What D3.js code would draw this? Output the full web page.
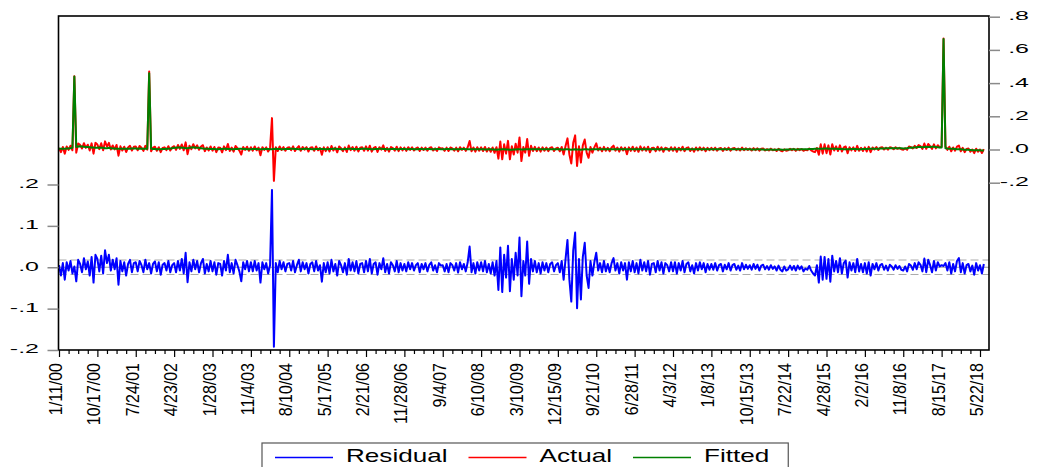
<!DOCTYPE html>
<html>
<head>
<meta charset="utf-8">
<script src="https://cdn.jsdelivr.net/npm/d3@7/dist/d3.min.js"></script>
<style>
    body { margin: 0; background: #fff; }
    text { font-family: "Liberation Sans", Arial, sans-serif; }
</style>
</head>
<body>
<svg id="chart" width="1039" height="467"></svg>
<script>

// x labels, one every 20 samples (samples are two weeks apart)
const dateLabels = ['1/11/00', '10/17/00', '7/24/01', '4/23/02', '1/28/03', '11/4/03', '8/10/04',
    '5/17/05', '2/21/06', '11/28/06', '9/4/07', '6/10/08', '3/10/09', '12/15/09', '9/21/10',
    '6/28/11', '4/3/12', '1/8/13', '10/15/13', '7/22/14', '4/28/15', '2/2/16', '11/8/16',
    '8/15/17', '5/22/18'];

const residual = [
    .005, -.02, .01, -.03, .012, -.008, .015, -.015, .002, -.034, .018, .008, -.012, .022, -.005, .014, -.02, .025, -.037, .03,
    .02, -.01, .028, -.015, .041, .01, .03, -.008, .018, -.005, .022, -.042, .015, -.01, .012, -.02, .008, .018, -.012, .01,
    .012, -.01, .015, .005, -.012, .018, -.005, .01, -.015, .008, .014, -.01, .012, -.018, .006, .01, -.008, .015, -.012, .005,
    .01, -.012, .015, -.008, .02, -.015, .035, -.036, .012, -.01, .018, -.005, .015, -.012, .01, .02, -.015, .008, -.01, .015,
    -.01, .012, -.018, .01, .008, -.02, .015, -.008, .03, -.012, .01, -.015, .018, .005, -.01, -.034, .012, -.005, .015, -.01,
    .012, -.01, .015, -.008, .01, -.037, .012, -.005, .01, -.015, .005, .187, -.192, .01, -.012, .015, -.005, .012, -.01, .008,
    .01, -.008, .015, -.012, .005, .018, -.01, .012, -.005, .01, -.015, .008, .012, -.01, .015, -.008, .005, -.035, .01, -.012,
    .012, -.015, .018, -.01, .008, -.02, .015, .005, -.012, .01, -.018, .02, -.008, .012, -.01, .015, -.015, .008, .01, -.012,
    .015, -.01, .02, -.015, .008, .012, -.018, .01, -.005, .022, -.012, .008, -.015, .012, .005, -.01, .015, -.012, .01, -.008,
    .008, -.01, .012, -.005, .01, -.008, .005, .01, -.012, .008, -.005, .01, -.01, .006, .012, -.008, .005, -.012, .01, .004,
    .005, -.01, .008, -.012, .01, .005, -.008, .01, -.013, .012, -.005, .008, -.01, .012, .05, -.012, .01, -.015, .012, -.008,
    .012, -.01, .015, -.012, .008, -.015, .012, -.02, .015, -.055, .048, -.06, .03, -.025, .052, -.058, .02, -.03, .035, -.02,
    .072, -.07, .015, -.02, .062, -.04, .02, -.01, .015, -.012, .01, -.015, .012, -.008, .01, -.012, .008, .012, -.01, .005,
    .01, -.012, .015, -.03, .02, .066, -.03, -.083, .04, .084, -.099, .02, -.078, .025, .059, -.02, -.05, .015, -.02, .012,
    .035, -.008, .01, -.012, .015, -.01, .008, -.012, .01, .022, -.008, .01, -.015, .012, -.008, .01, -.03, .012, -.01, .015,
    -.012, .01, -.015, .018, -.008, .012, -.01, .015, -.018, .008, .01, -.012, .015, -.008, .012, -.015, .01, .005, -.01, .012,
    -.01, .012, -.015, .01, -.008, .015, -.012, .008, .012, -.01, .005, -.015, .01, -.008, .012, -.005, .01, -.012, .008, -.006,
    .008, -.006, .01, -.008, .005, .008, -.01, .006, -.005, .01, -.008, .005, .008, -.006, .004, -.008, .01, -.005, .006, -.004,
    .005, -.006, .008, -.004, .006, -.008, .004, .006, -.005, .003, -.006, .005, -.004, .002, -.008, .004, -.006, -.01, .002, -.008,
    -.005, .004, -.006, .003, -.008, .004, -.005, .002, -.01, -.003, -.006, .003, -.008, -.015, -.02, .005, -.037, .026, -.03, .025,
    -.028, .02, -.035, .028, -.01, .015, -.012, .022, -.015, .01, .016, -.025, .012, -.008, .01, -.012, .02, -.01, .008, -.012,
    .01, -.015, .012, -.02, .008, -.005, .01, -.008, .005, .008, -.006, .004, -.008, .006, .002, -.006, .005, -.004, .003, -.006,
    -.008, .002, -.01, .008, .004, -.006, .01, -.005, .012, .006, -.01, .021, -.012, .018, .005, -.012, .015, -.008, .012, .002,
    .005, .003, .01, -.008, .012, -.015, .008, -.01, .015, .022, -.012, .01, -.015, .005, .008, -.01, .004, -.018, .01, -.008,
    .005, -.015, .008
];

const fitted = [
    .004, .004, .005, .005, .006, .006, .008, .01, .44, .015, .018, .02, .018, .016, .015, .015, .014, .012, .012, .01,
    .01, .012, .01, .01, .008, .008, .01, .008, .006, .006, .005, .005, .004, .004, .005, .005, .004, .004, .006, .006,
    .006, .005, .006, .005, .004, .004, .004, .46, .004, .003, .003, .002, .002, .002, .003, .003, .004, .005, .006, .008,
    .01, .01, .012, .012, .01, .01, .008, .008, .01, .012, .014, .012, .01, .01, .008, .006, .005, .004, .004, .003,
    .003, .003, .002, .002, .003, .003, .004, .004, .003, .003, .002, .002, .003, .003, .004, .004, .003, .003, .002, .002,
    .002, .003, .003, .003, .002, .002, .002, .003, .003, .003, .002, .002, .003, .004, .003, .003, .002, .002, .003, .003,
    .003, .004, .004, .003, .003, .002, .002, .003, .004, .004, .003, .003, .002, .002, .003, .003, .004, .003, .003, .002,
    .002, .003, .003, .004, .004, .003, .003, .002, .002, .003, .003, .004, .004, .003, .003, .002, .003, .003, .004, .004,
    .004, .003, .003, .002, .002, .003, .003, .004, .004, .003, .003, .002, .002, .003, .003, .003, .002, .002, .003, .003,
    .003, .002, .002, .003, .003, .002, .002, .002, .003, .003, .002, .002, .003, .003, .002, .002, .002, .003, .003, .002,
    .002, .002, .003, .003, .002, .002, .001, .001, .002, .002, .003, .003, .002, .002, .001, .001, .002, .002, .002, .001,
    .001, .001, 0, 0, .001, .001, 0, 0, -.001, 0, 0, .001, .001, 0, 0, -.001, -.001, 0, 0, .001,
    .001, 0, 0, .001, .001, .002, .002, .001, .001, .002, .002, .002, .001, .001, .002, .002, .002, .002, .001, .001,
    .001, .001, 0, 0, .001, .001, 0, -.001, 0, .001, 0, 0, -.001, 0, .001, .001, 0, 0, .001, .001,
    .002, .002, .002, .001, .001, .002, .002, .002, .002, .001, .001, .002, .002, .002, .002, .002, .001, .001, .002, .002,
    .002, .002, .001, .001, .002, .002, .002, .002, .001, .001, .001, .002, .002, .002, .001, .001, .001, .002, .002, .002,
    .002, .001, .001, .001, .002, .002, .002, .001, .001, .001, .002, .002, .002, .002, .001, .001, .001, .002, .002, .002,
    .002, .002, .001, .001, .001, .001, .002, .002, .002, .001, .001, .001, .001, .002, .002, .002, .001, .001, .001, .001,
    .001, 0, 0, 0, .001, .001, 0, 0, -.001, -.001, 0, 0, -.001, -.001, -.001, 0, 0, -.001, -.001, 0,
    0, 0, .001, .001, 0, 0, .001, .001, .002, .002, .002, .003, .003, .003, .004, .004, .005, .005, .005, .006,
    .006, .005, .005, .004, .004, .004, .003, .003, .003, .002, .002, .002, .002, .003, .003, .003, .002, .002, .002, .003,
    .003, .003, .004, .004, .004, .005, .005, .005, .006, .006, .006, .007, .007, .007, .008, .008, .008, .008, .007, .007,
    .006, .006, .008, .01, .01, .012, .012, .014, .015, .015, .014, .015, .016, .015, .015, .016, .016, .015, .014, .012,
    .012, .665, .008, .006, .005, .004, .004, .003, .002, .002, .001, 0, -.001, -.002, -.002, -.003, -.004, -.004, -.005, -.005,
    -.005, -.006, -.006
];

// actual = fitted + residual
const actual = fitted.map((f, i) => f + residual[i]);

const leftTicks = [-0.2, -0.1, 0, 0.1, 0.2];
const rightTicks = [-0.2, 0, 0.2, 0.4, 0.6, 0.8];
const seBand = 0.0175;   // +/- one S.E. of regression

const legendItems = [
    { name: 'Residual', color: '#0000ff' },
    { name: 'Actual', color: '#ff0000' },
    { name: 'Fitted', color: '#008000' }
];

const svg = d3.select('#chart');

// plot frame
let plotLeft = 58.5, plotRight = 989, plotTop = 16, plotBottom = 350;

let x = d3.scaleLinear().domain([0, 480]).range([plotLeft + 0.5, 980]);
let yLeft = d3.scaleLinear().domain([-0.2, 0.2]).range([plotBottom, 184.5]);
let yRight = d3.scaleLinear().domain([-0.2, 0.8]).range([182.7, plotTop + 0.7]);

// eviews style: ".2", "-.1"
let fmt = (v) => d3.format('.1f')(v).replace('\u2212', '-').replace('0.', '.');

// residual reference lines
svg.append('line')
    .attr('x1', plotLeft).attr('x2', plotRight)
    .attr('y1', yLeft(0)).attr('y2', yLeft(0))
    .attr('stroke', '#9a9a9a').attr('stroke-width', 1);

svg.selectAll('.band')
    .data([seBand, -seBand])
    .enter()
    .append('line')
    .attr('class', 'band')
    .attr('x1', plotLeft).attr('x2', plotRight)
    .attr('y1', (d) => yLeft(d)).attr('y2', (d) => yLeft(d))
    .attr('stroke', '#aaaaaa')
    .attr('stroke-width', 1)
    .attr('stroke-dasharray', '8,4');

// series
let lineLeft = d3.line().x((d, i) => x(i)).y((d) => yLeft(d));
let lineRight = d3.line().x((d, i) => x(i)).y((d) => yRight(d));

svg.append('path')
    .datum(residual)
    .attr('d', lineLeft)
    .attr('fill', 'none')
    .attr('stroke', legendItems[0].color)
    .attr('stroke-width', 2)
    .attr('stroke-linejoin', 'round');

svg.append('path')
    .datum(actual)
    .attr('d', lineRight)
    .attr('fill', 'none')
    .attr('stroke', legendItems[1].color)
    .attr('stroke-width', 2)
    .attr('stroke-linejoin', 'round');

svg.append('path')
    .datum(fitted)
    .attr('d', lineRight)
    .attr('fill', 'none')
    .attr('stroke', legendItems[2].color)
    .attr('stroke-width', 2)
    .attr('stroke-linejoin', 'round');

// frame
svg.append('rect')
    .attr('x', plotLeft).attr('y', plotTop)
    .attr('width', plotRight - plotLeft).attr('height', plotBottom - plotTop)
    .attr('fill', 'none')
    .attr('stroke', '#000')
    .attr('stroke-width', 1.6);

// left axis (residual)
let axL = svg.append('g')
    .attr('transform', 'translate(' + plotLeft + ',0)')
    .call(d3.axisLeft(yLeft).tickValues(leftTicks).tickSize(11).tickFormat(fmt));
axL.select('.domain').remove();
axL.selectAll('line').attr('stroke', '#8a8a8a').attr('stroke-width', 1.5);
axL.selectAll('text')
    .attr('x', 0).attr('dy', null)
    .attr('transform', 'translate(-19.5,2.8) scale(1.85,1)')
    .attr('font-size', 13.5)
    .attr('fill', '#000');

// right axis (actual / fitted)
let axR = svg.append('g')
    .attr('transform', 'translate(' + plotRight + ',0)')
    .call(d3.axisRight(yRight).tickValues(rightTicks).tickSize(11).tickFormat(fmt));
axR.select('.domain').remove();
axR.selectAll('line').attr('stroke', '#8a8a8a').attr('stroke-width', 1.5);
axR.selectAll('text')
    .attr('x', 0).attr('dy', null)
    .attr('text-anchor', 'end')
    .attr('transform', 'translate(40,3) scale(1.85,1)')
    .attr('font-size', 13.5)
    .attr('fill', '#000');

// bottom axis: minor ticks every 5 samples, labels every 20
let minor = d3.range(0, 481, 5).filter((d) => d % 20 != 0);
let axMinor = svg.append('g')
    .attr('transform', 'translate(0,' + plotBottom + ')')
    .call(d3.axisBottom(x).tickValues(minor).tickSize(4).tickFormat(''));
axMinor.select('.domain').remove();

let axB = svg.append('g')
    .attr('transform', 'translate(0,' + plotBottom + ')')
    .call(d3.axisBottom(x)
        .tickValues(dateLabels.map((d, i) => i * 20))
        .tickSize(7)
        .tickFormat((d) => dateLabels[d / 20]));
axB.select('.domain').remove();
axB.selectAll('line').attr('stroke-width', 1.2);
axMinor.selectAll('line').attr('stroke-width', 1.2);
axB.selectAll('text')
    .attr('x', 0).attr('y', 0).attr('dy', null)
    .attr('text-anchor', 'end')
    .attr('transform', 'translate(2.5,13) rotate(-90) scale(1,1.1)')
    .attr('font-size', 16)
    .attr('fill', '#000');

// legend
let legend = svg.append('g');
let legendBox = legend.append('rect')
    .attr('x', 262).attr('y', 443)
    .attr('height', 40)
    .attr('fill', '#fff')
    .attr('stroke', '#555')
    .attr('stroke-width', 1.2);

let lx = 275;
legendItems.forEach((item) => {
    legend.append('line')
        .attr('x1', lx).attr('x2', lx + 58)
        .attr('y1', 457.5).attr('y2', 457.5)
        .attr('stroke', item.color)
        .attr('stroke-width', 1.3);
    let t = legend.append('text')
        .attr('transform', 'translate(' + (lx + 71) + ',462) scale(1.45,1)')
        .attr('font-size', 18)
        .text(item.name);
    let w = t.node().getComputedTextLength() * 1.45;
    lx = lx + 71 + w + 21;
});
legendBox.attr('width', lx - 262 - 2);

</script>
</body>
</html>
